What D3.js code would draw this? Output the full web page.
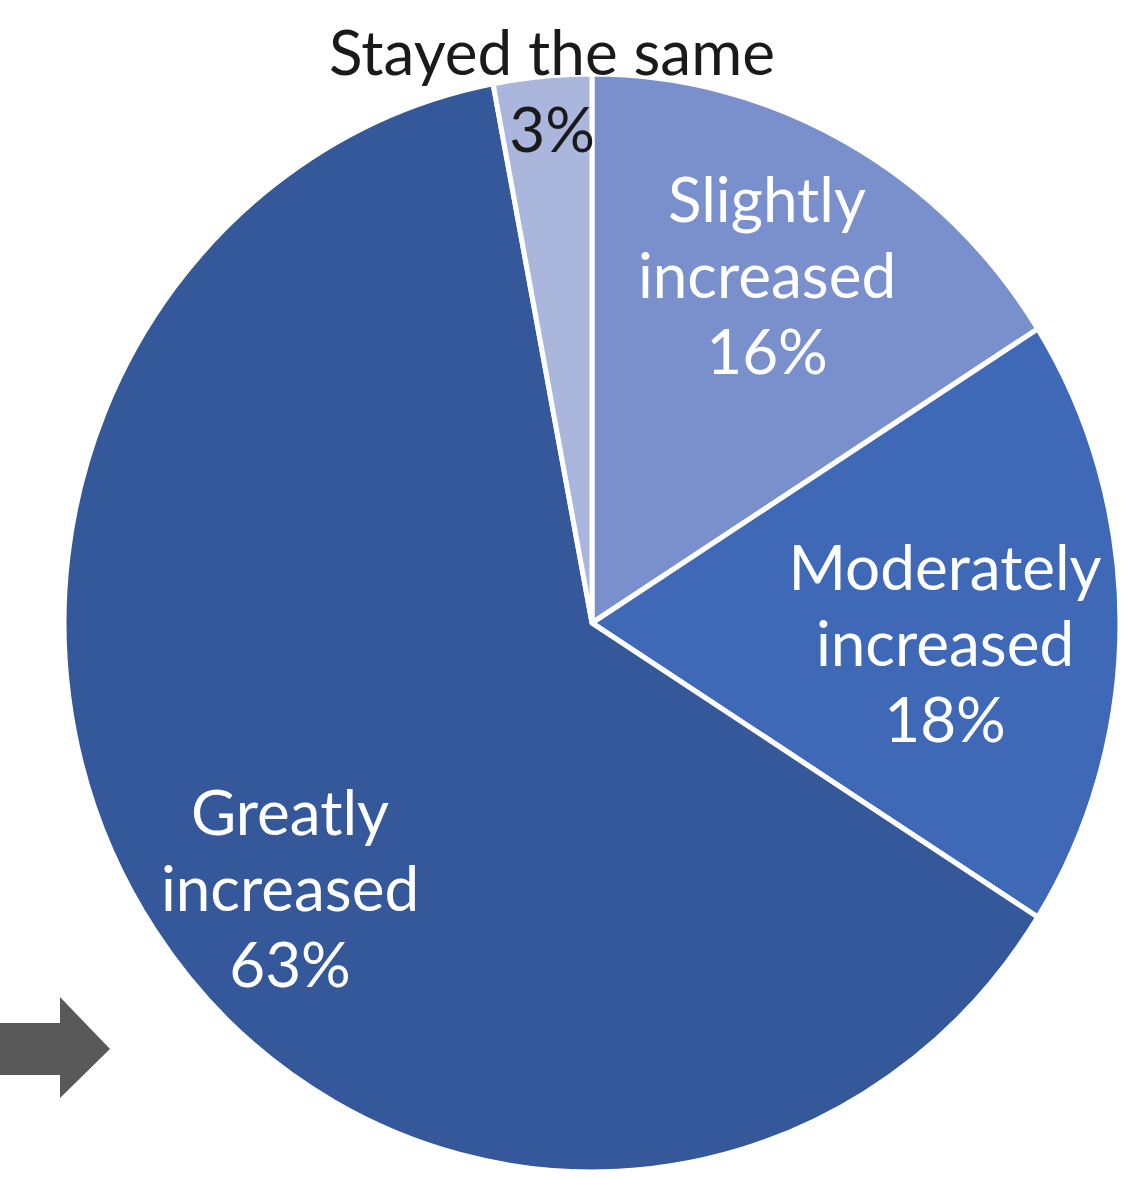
<!DOCTYPE html>
<html><head><meta charset="utf-8">
<script src="https://cdn.jsdelivr.net/npm/d3@7"></script>
<style>html,body{margin:0;padding:0;background:#fff;}svg{display:block;}</style>
</head><body>
<svg id="chart" width="1127" height="1178"></svg>
<script>
const categories = ["Slightly increased", "Moderately increased", "Greatly increased", "Stayed the same"];
const labelLines = [["Slightly", "increased"], ["Moderately", "increased"], ["Greatly", "increased"], ["Stayed the same"]];
const values = [16, 18, 63, 3];
const colors = ["#7a90cc", "#3f69b6", "#34589a", "#abb6dd"];
const textColors = ["#ffffff", "#ffffff", "#ffffff", "#1a1a1a"];

const svg = d3.select("#chart");
const cx = 592, cy = 623, rx = 528, ry = 549;
const sy = ry / rx;

const pie = d3.pie().sort(null).value(d => d)(values);
const arc = d3.arc().innerRadius(0).outerRadius(rx);

const g = svg.append("g").attr("transform", `translate(${cx},${cy}) scale(1,${sy})`);
g.selectAll("path").data(pie).join("path")
  .attr("d", arc)
  .attr("fill", (d, i) => colors[i])
  .attr("stroke", "#fff")
  .attr("stroke-width", 5)
  .attr("stroke-linejoin", "round");

// label layout: centre x and first baseline, in page pixels (layout, not data)
const labelLayout = [[767, 222], [945, 590], [290, 835], [552, 75]];
const fs = 62, lh = 76;
const fmt = v => v + "%";

pie.forEach((d, i) => {
  const lines = labelLines[i].concat([fmt(values[i])]);
  const [x, y] = labelLayout[i];
  const t = svg.append("text")
    .attr("x", x).attr("y", y)
    .attr("text-anchor", "middle")
    .attr("font-family", "Lato, 'Open Sans', sans-serif")
    .attr("font-size", fs)
    .attr("fill", textColors[i]);
  lines.forEach((ln, k) => {
    t.append("tspan").attr("x", x).attr("dy", k === 0 ? 0 : (k === 1 && i === 3 ? 77 : lh)).text(ln);
  });
});

// decorative grey arrow
svg.append("path")
  .attr("d", "M0,1023 L60,1023 L60,997 L110,1049 L60,1098 L60,1075 L0,1075 Z")
  .attr("fill", "#595959");
</script>
</body></html>
